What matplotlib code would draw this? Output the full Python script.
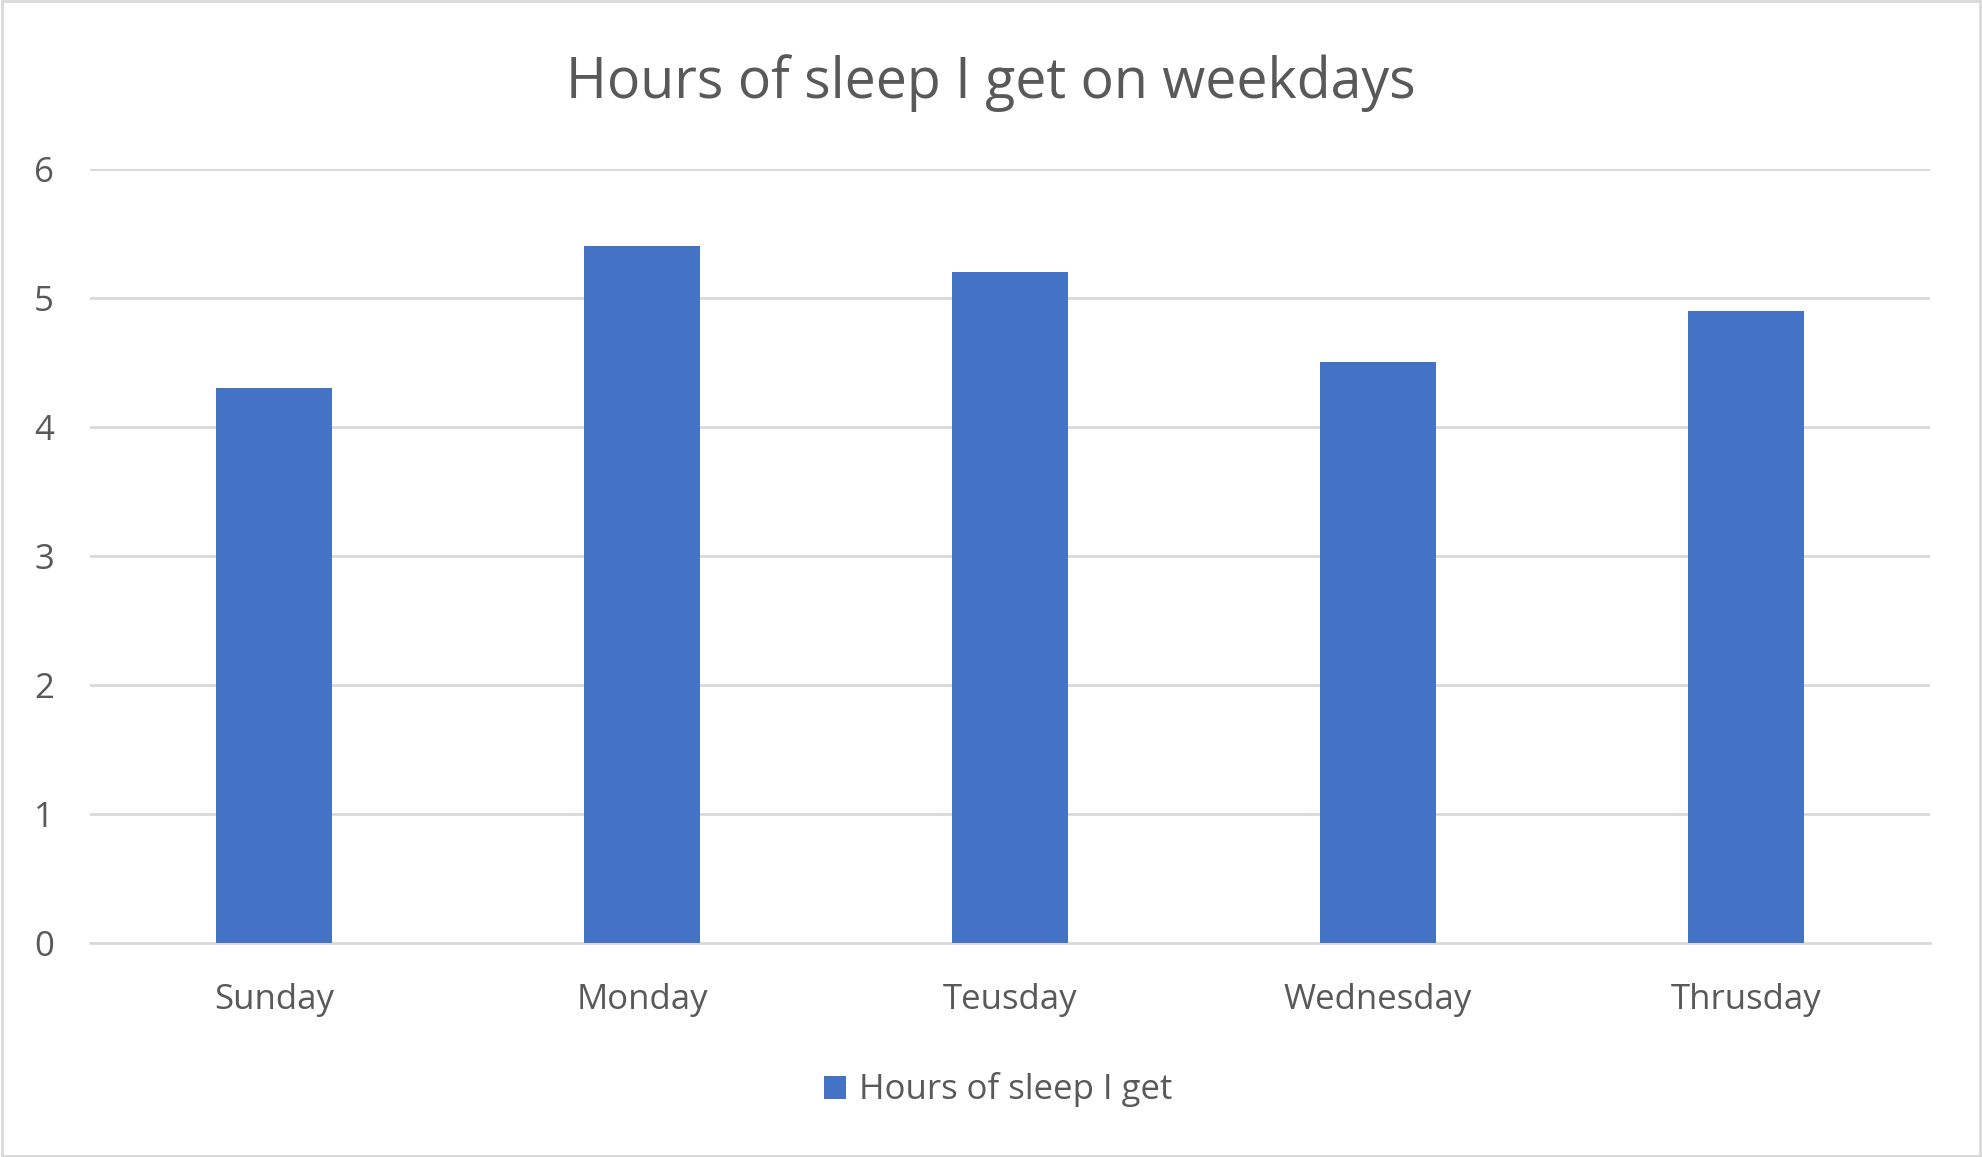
import matplotlib
matplotlib.use("Agg")
import matplotlib.pyplot as plt
from matplotlib.patches import Rectangle

# chart data
days = ["Sunday", "Monday", "Teusday", "Wednesday", "Thrusday"]
hours = [4.3, 5.4, 5.2, 4.5, 4.9]
series_name = "Hours of sleep I get"
title = "Hours of sleep I get on weekdays"

text_col = "#595959"
grid_col = "#d9d9d9"
bar_col = "#4472C4"

plt.rcParams["font.family"] = ["Open Sans", "DejaVu Sans"]

fig = plt.figure(figsize=(19.82, 11.57), dpi=100)
ax = fig.add_axes([0.0454, 0.185, 0.9284, 0.669])

x = list(range(len(days)))
ax.bar(x, hours, width=0.313, color=bar_col, label=series_name, zorder=3)

ax.set_xlim(-0.5, len(days) - 0.5)
ax.set_ylim(0, 6)
ax.set_yticks(range(0, 7))
ax.set_xticks(x)
ax.set_xticklabels(days)

ax.yaxis.grid(True, color=grid_col, linewidth=2, zorder=0)
for s in ["top", "right", "left"]:
    ax.spines[s].set_visible(False)
ax.spines["bottom"].set_color(grid_col)
ax.spines["bottom"].set_linewidth(2)
ax.tick_params(axis="both", length=0, labelsize=25, colors=text_col)
ax.tick_params(axis="x", pad=29)
ax.tick_params(axis="y", pad=26)

fig.text(0.5, 0.9285, title, ha="center", va="center", fontsize=40, color=text_col)

leg = fig.legend(loc="center", bbox_to_anchor=(0.5035, 0.058), frameon=False,
                 fontsize=25, handlelength=0.65, handleheight=0.65, handletextpad=0.35,
                 labelcolor=text_col)

# light border round the chart
fig.patches.append(Rectangle((0.001, 0.001), 0.998, 0.998, transform=fig.transFigure,
                             fill=False, edgecolor=grid_col, linewidth=2))

fig.savefig("out.png", dpi=100, facecolor="white")
